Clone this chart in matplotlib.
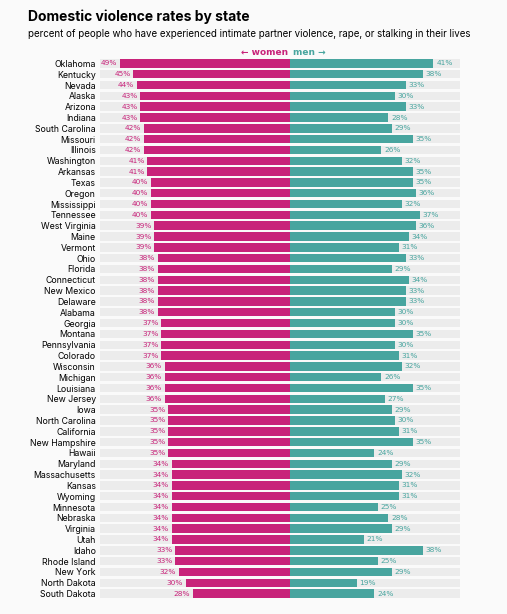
import matplotlib
matplotlib.use("Agg")
import matplotlib.pyplot as plt

states = ["Oklahoma","Kentucky","Nevada","Alaska","Arizona","Indiana","South Carolina","Missouri","Illinois",
"Washington","Arkansas","Texas","Oregon","Mississippi","Tennessee","West Virginia","Maine","Vermont","Ohio",
"Florida","Connecticut","New Mexico","Delaware","Alabama","Georgia","Montana","Pennsylvania","Colorado",
"Wisconsin","Michigan","Louisiana","New Jersey","Iowa","North Carolina","California","New Hampshire","Hawaii",
"Maryland","Massachusetts","Kansas","Wyoming","Minnesota","Nebraska","Virginia","Utah","Idaho","Rhode Island",
"New York","North Dakota","South Dakota"]
women = [49,45,44,43,43,43,42,42,42,41,41,40,40,40,40,39,39,39,38,38,38,38,38,38,37,37,37,37,36,36,36,36,
35,35,35,35,35,34,34,34,34,34,34,34,34,33,33,32,30,28]
men = [41,38,33,30,33,28,29,35,26,32,35,35,36,32,37,36,34,31,33,29,34,33,33,30,30,35,30,31,32,26,35,27,
29,30,31,35,24,29,32,31,31,25,28,29,21,38,25,29,19,24]

PINK = "#c8237a"; TEAL = "#48a59f"
fig = plt.figure(figsize=(5.07, 6.14), dpi=100, facecolor="#fafafa")
ax = fig.add_axes([100/507, 1-599/614, 360/507, (599-58)/614])
ax.set_facecolor("#fafafa")
n = len(states)
y = list(range(n))
L, R = -54.6, 48.6
ax.barh(y, [R-L]*n, left=L, height=0.78, color="#ececec", zorder=0)
ax.barh(y, [-w for w in women], height=0.78, color=PINK, zorder=1)
ax.barh(y, men, height=0.78, color=TEAL, zorder=1)
for i in y:
    ax.text(-women[i]-0.8, i, f"{women[i]}%", ha="right", va="center", fontsize=5.3, color=PINK)
    ax.text(men[i]+0.8, i, f"{men[i]}%", ha="left", va="center", fontsize=5.3, color=TEAL)
ax.set_xlim(L, R)
ax.set_ylim(n-0.5, -0.5)
ax.set_yticks(y)
ax.set_yticklabels(states, fontsize=6.3, family="Inter")
ax.tick_params(length=0, pad=3)
ax.set_xticks([])
for s in ax.spines.values():
    s.set_visible(False)
ax.text(-0.8, -1.0, "← women", ha="right", va="center", color=PINK, fontsize=6.5, fontweight="bold")
ax.text(0.8, -1.0, "men →", ha="left", va="center", color=TEAL, fontsize=6.5, fontweight="bold")
fig.text(28/507, 1-17/614, "Domestic violence rates by state", fontsize=10, fontweight="bold", va="center", family="Inter")
fig.text(28/507, 1-34/614, "percent of people who have experienced intimate partner violence, rape, or stalking in their lives",
         fontsize=7.0, va="center", family="Inter")
fig.savefig("out.png", dpi=100, facecolor=fig.get_facecolor())
